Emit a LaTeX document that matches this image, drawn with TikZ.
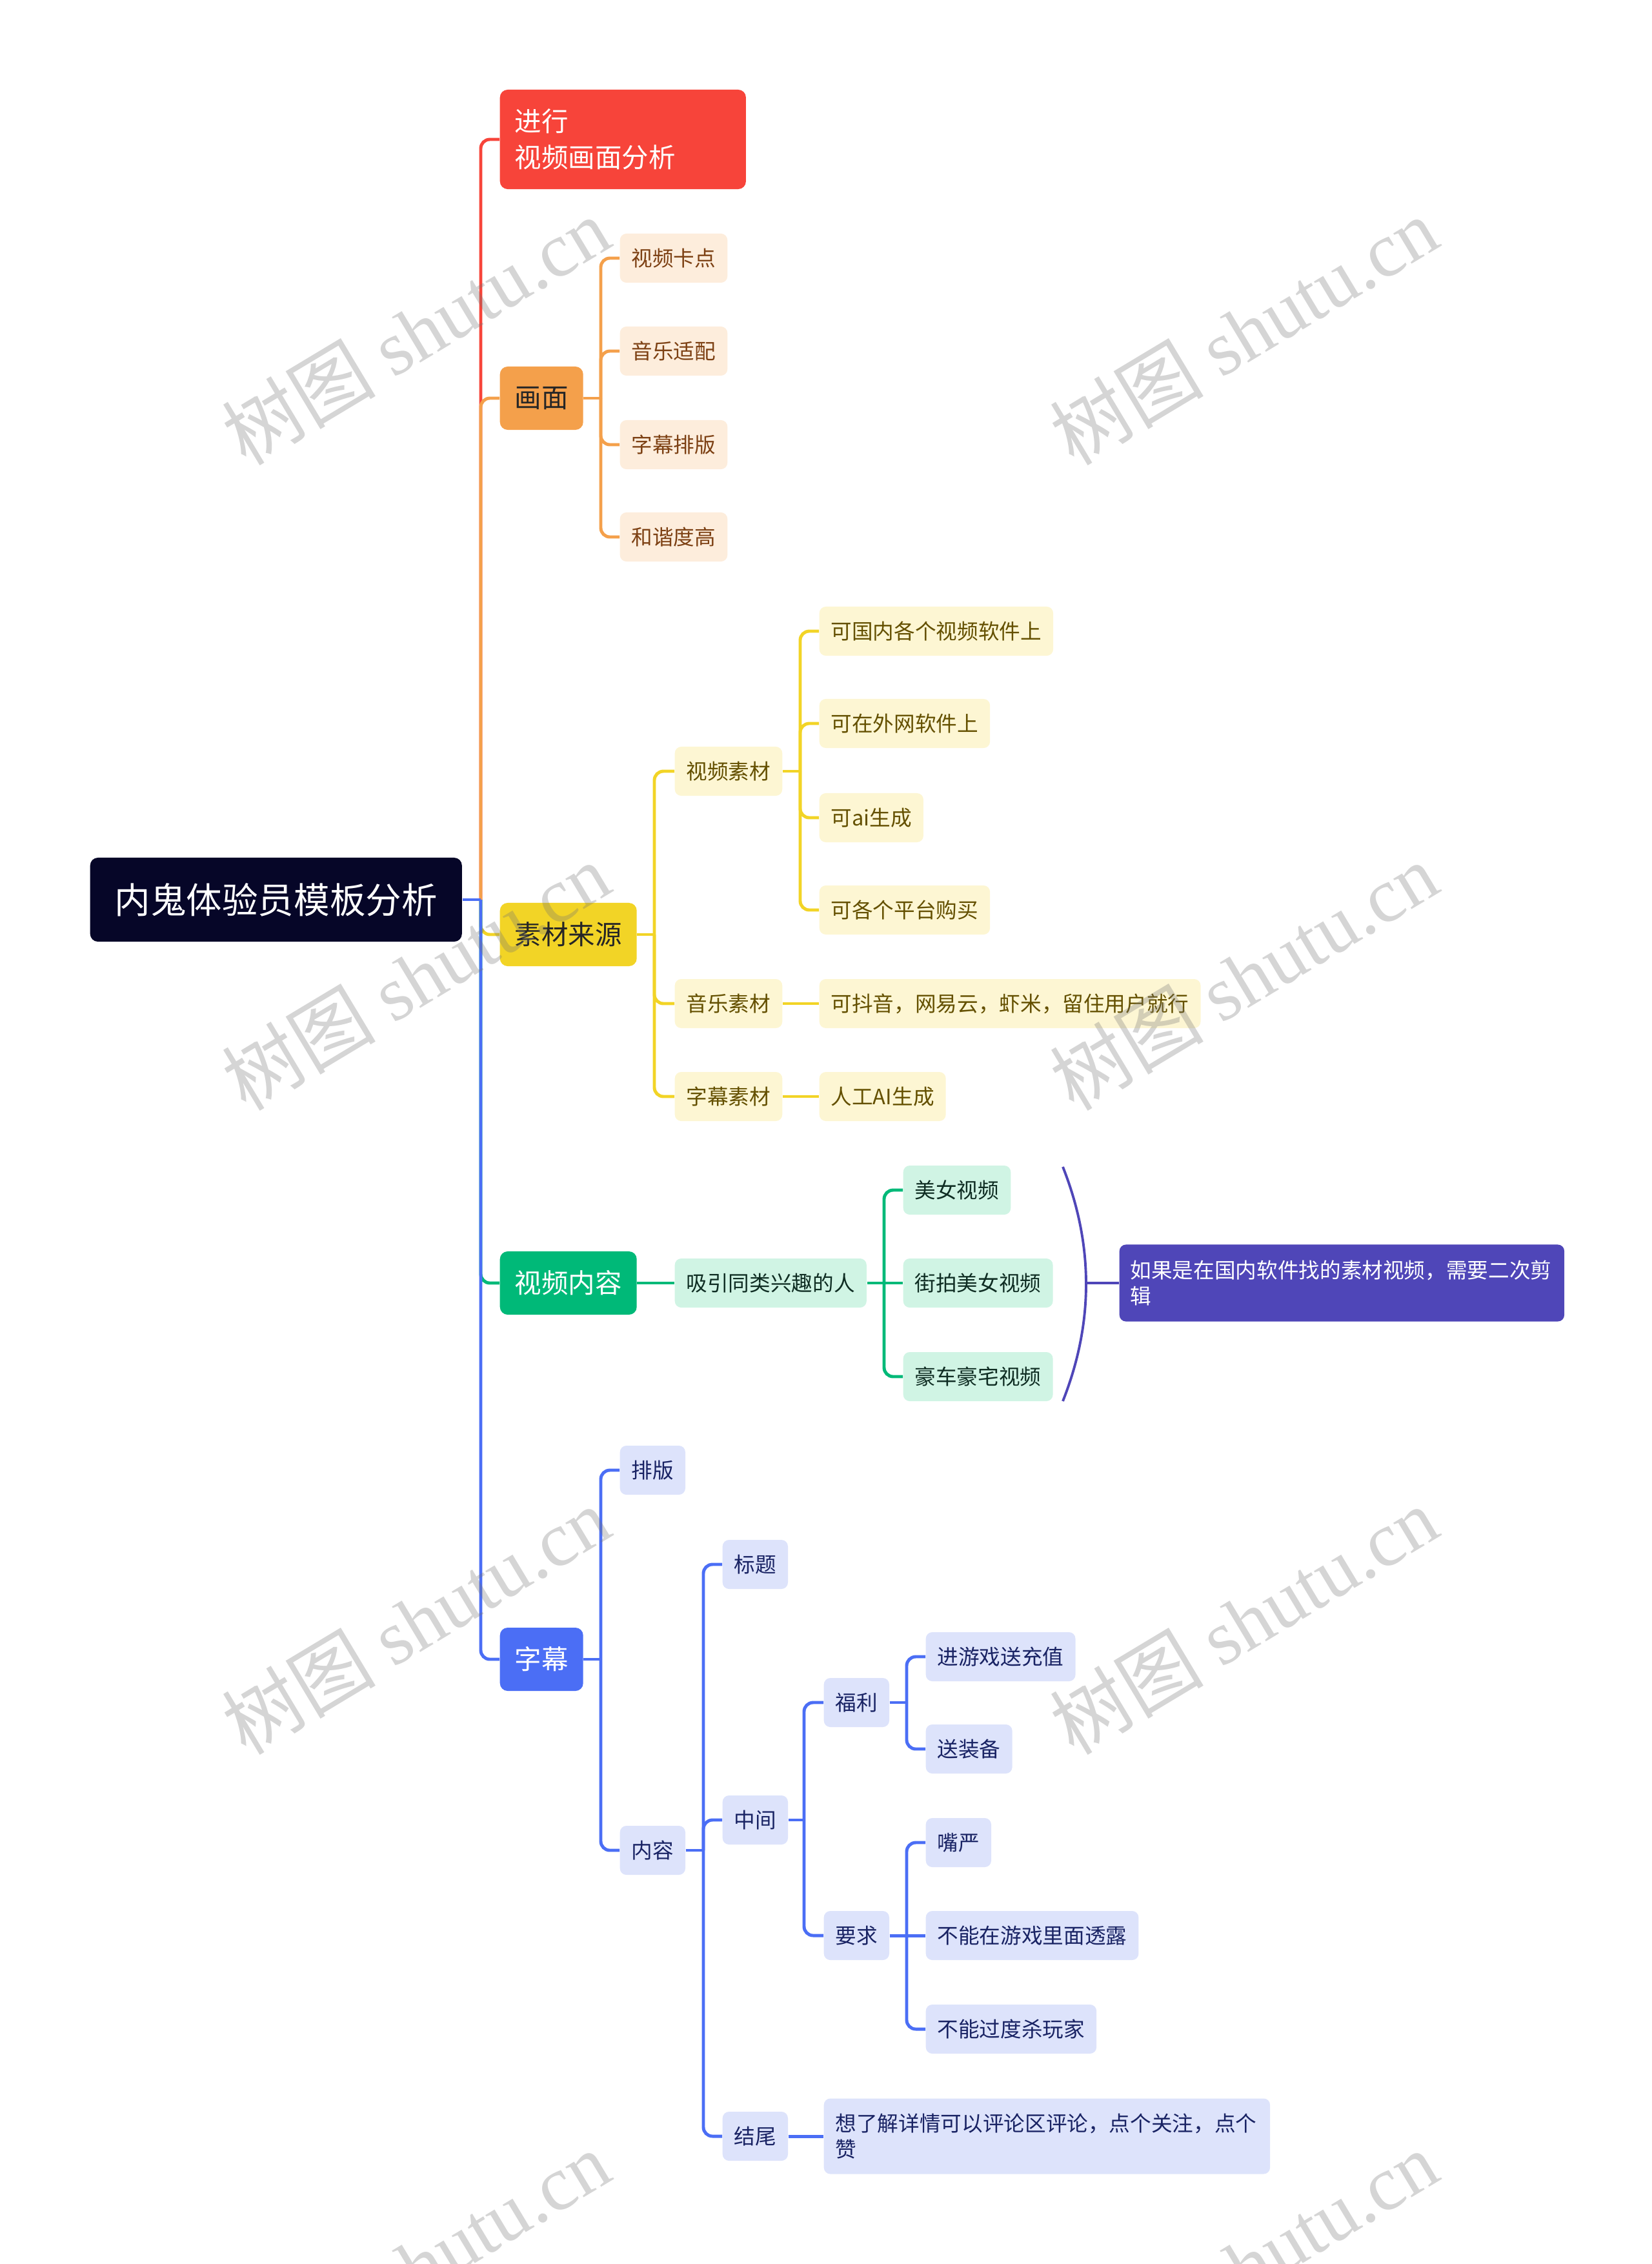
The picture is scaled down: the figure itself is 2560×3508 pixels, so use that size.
\documentclass[tikz,border=0pt]{standalone}
\usepackage{fontspec}
\setmainfont{Noto Sans CJK SC}
\newfontfamily\wmfont{Liberation Serif}
\usepackage{xcolor}
\usepackage{tikz}
\usetikzlibrary{positioning}

\definecolor{rootbg}{RGB}{6,6,40}
\definecolor{cred}{RGB}{247,68,58}
\definecolor{corange}{RGB}{244,160,75}
\definecolor{cyellow}{RGB}{242,212,38}
\definecolor{cgreen}{RGB}{0,185,120}
\definecolor{cblue}{RGB}{75,110,245}
\definecolor{cpurple}{RGB}{79,70,184}
\definecolor{lorange}{RGB}{253,237,220}
\definecolor{lyellow}{RGB}{253,246,211}
\definecolor{lgreen}{RGB}{208,244,228}
\definecolor{lblue}{RGB}{221,227,251}
\definecolor{torange}{RGB}{125,65,20}
\definecolor{tyellow}{RGB}{100,80,0}
\definecolor{tgreen}{RGB}{15,45,35}
\definecolor{tblue}{RGB}{25,35,100}

\begin{document}
\begin{tikzpicture}[
    x=0.01cm, y=-0.01cm,
    root/.style={fill=rootbg, text=white, rounded corners=0.12cm, anchor=west,
                 inner xsep=0.38cm, minimum height=1.3cm,
                 font=\fontsize{15.8}{19}\selectfont},
    big/.style={rounded corners=0.12cm, anchor=west, inner xsep=0.23cm,
                minimum height=0.98cm, font=\fontsize{11.8}{16}\selectfont},
    sub/.style={rounded corners=0.1cm, anchor=west, inner xsep=0.18cm,
                minimum height=0.76cm, font=\fontsize{9.28}{11.5}\selectfont},
    ln/.style={line width=1.4pt},
    rc/.style={line width=1.4pt, rounded corners=0.14cm},
    wm/.style={rotate=31, text=black!55, opacity=0.3,
               font=\fontsize{34}{34}\selectfont}]
  \useasboundingbox (0,0) rectangle (2560,3508);

  % root and first level
  \node[root] (root) at (139,1394) {内鬼体验员模板分析};
  \node[big, fill=cred, text=white, text width=3.35cm, align=left,
        minimum height=1.54cm] (fx) at (774,216) {进行\\视频画面分析};
  \node[big, fill=corange, text=black!85] (hm) at (774,617) {画面};
  \node[big, fill=cyellow, text=black!85] (sc) at (774,1448) {素材来源};
  \node[big, fill=cgreen, text=white] (sp) at (774,1988) {视频内容};
  \node[big, fill=cblue, text=white] (zm) at (774,2571) {字幕};

  % picture
  \node[sub, fill=lorange, text=torange] (kd) at (960,400) {视频卡点};
  \node[sub, fill=lorange, text=torange] (yp) at (960,544) {音乐适配};
  \node[sub, fill=lorange, text=torange] (pb) at (960,689) {字幕排版};
  \node[sub, fill=lorange, text=torange] (hx) at (960,832) {和谐度高};

  % material
  \node[sub, fill=lyellow, text=tyellow] (spsc) at (1045,1195) {视频素材};
  \node[sub, fill=lyellow, text=tyellow] (yysc) at (1045,1555) {音乐素材};
  \node[sub, fill=lyellow, text=tyellow] (zmsc) at (1045,1699) {字幕素材};
  \node[sub, fill=lyellow, text=tyellow] (gn) at (1269,978) {可国内各个视频软件上};
  \node[sub, fill=lyellow, text=tyellow] (ww) at (1269,1121) {可在外网软件上};
  \node[sub, fill=lyellow, text=tyellow] (ai) at (1269,1267) {可ai生成};
  \node[sub, fill=lyellow, text=tyellow] (pt) at (1269,1410) {可各个平台购买};
  \node[sub, fill=lyellow, text=tyellow] (dy) at (1269,1555) {可抖音，网易云，虾米，留住用户就行};
  \node[sub, fill=lyellow, text=tyellow] (rg) at (1269,1699) {人工AI生成};

  % content
  \node[sub, fill=lgreen, text=tgreen] (xy) at (1045,1988) {吸引同类兴趣的人};
  \node[sub, fill=lgreen, text=tgreen] (mn) at (1399,1844) {美女视频};
  \node[sub, fill=lgreen, text=tgreen] (jp) at (1399,1988) {街拍美女视频};
  \node[sub, fill=lgreen, text=tgreen] (hc) at (1399,2133) {豪车豪宅视频};
  \node[sub, fill=cpurple, text=white, text width=6.55cm, align=left,
        inner xsep=0.17cm, minimum height=1.19cm] (tip) at (1734,1988)
        {如果是在国内软件找的素材视频，需要二次剪\\辑};

  % subtitles
  \node[sub, fill=lblue, text=tblue] (px) at (960,2278) {排版};
  \node[sub, fill=lblue, text=tblue] (nr) at (960,2867) {内容};
  \node[sub, fill=lblue, text=tblue] (bt) at (1119,2424) {标题};
  \node[sub, fill=lblue, text=tblue] (zj) at (1119,2820) {中间};
  \node[sub, fill=lblue, text=tblue] (jw) at (1119,3310) {结尾};
  \node[sub, fill=lblue, text=tblue] (fl) at (1276,2638) {福利};
  \node[sub, fill=lblue, text=tblue] (yq) at (1276,2999) {要求};
  \node[sub, fill=lblue, text=tblue] (cz) at (1434,2567) {进游戏送充值};
  \node[sub, fill=lblue, text=tblue] (zb) at (1434,2710) {送装备};
  \node[sub, fill=lblue, text=tblue] (zy) at (1434,2855) {嘴严};
  \node[sub, fill=lblue, text=tblue] (tl) at (1434,2999) {不能在游戏里面透露};
  \node[sub, fill=lblue, text=tblue] (sw) at (1434,3144) {不能过度杀玩家};
  \node[sub, fill=lblue, text=tblue, text width=6.55cm, align=left,
        minimum height=1.17cm] (gz) at (1276,3310)
        {想了解详情可以评论区评论，点个关注，点个\\赞};

  % root connectors
  \draw[rc, cred] (745,1394) |- (fx.west);
  \draw[rc, corange] (745,1394) |- (hm.west);
  \draw[rc, cyellow] (745,1394) |- (sc.west);
  \draw[rc, cgreen] (745,1394) |- (sp.west);
  \draw[rc, cblue] (745,1394) |- (zm.west);
  \draw[ln, cblue] (root.east) -- (745,1394);

  % picture connectors
  \draw[ln, corange] (hm.east) -- (931,617);
  \draw[rc, corange] (931,617) |- (kd.west);
  \draw[rc, corange] (931,617) |- (yp.west);
  \draw[rc, corange] (931,617) |- (pb.west);
  \draw[rc, corange] (931,617) |- (hx.west);

  % material connectors
  \draw[ln, cyellow] (sc.east) -- (1014,1448);
  \draw[rc, cyellow] (1014,1448) |- (spsc.west);
  \draw[rc, cyellow] (1014,1448) |- (yysc.west);
  \draw[rc, cyellow] (1014,1448) |- (zmsc.west);
  \draw[ln, cyellow] (spsc.east) -- (1240,1195);
  \draw[rc, cyellow] (1240,1195) |- (gn.west);
  \draw[rc, cyellow] (1240,1195) |- (ww.west);
  \draw[rc, cyellow] (1240,1195) |- (ai.west);
  \draw[rc, cyellow] (1240,1195) |- (pt.west);
  \draw[ln, cyellow] (yysc.east) -- (dy.west);
  \draw[ln, cyellow] (zmsc.east) -- (rg.west);

  % content connectors
  \draw[ln, cgreen] (sp.east) -- (xy.west);
  \draw[ln, cgreen] (xy.east) -- (jp.west);
  \draw[rc, cgreen] (1370,1988) |- (mn.west);
  \draw[rc, cgreen] (1370,1988) |- (hc.west);
  \draw[cpurple, line width=1.1pt] (1647,1808) .. controls (1695,1929) and (1695,2050) .. (1647,2171);
  \coordinate (brc) at (1683,1988);
  \draw[ln, cpurple] (brc) -- (tip.west);

  % subtitle connectors
  \draw[ln, cblue] (zm.east) -- (931,2571);
  \draw[rc, cblue] (931,2571) |- (px.west);
  \draw[rc, cblue] (931,2571) |- (nr.west);
  \draw[ln, cblue] (nr.east) -- (1090,2867);
  \draw[rc, cblue] (1090,2867) |- (bt.west);
  \draw[rc, cblue] (1090,2867) |- (zj.west);
  \draw[rc, cblue] (1090,2867) |- (jw.west);
  \draw[ln, cblue] (zj.east) -- (1246,2820);
  \draw[rc, cblue] (1246,2820) |- (fl.west);
  \draw[rc, cblue] (1246,2820) |- (yq.west);
  \draw[ln, cblue] (fl.east) -- (1405,2638);
  \draw[rc, cblue] (1405,2638) |- (cz.west);
  \draw[rc, cblue] (1405,2638) |- (zb.west);
  \draw[ln, cblue] (yq.east) -- (tl.west);
  \draw[rc, cblue] (1405,2999) |- (zy.west);
  \draw[rc, cblue] (1405,2999) |- (sw.west);
  \draw[ln, cblue] (jw.east) -- (gz.west);

  % watermark
  \node[wm] (wm1) at (644,513) {树图 {\wmfont shutu.cn}};
  \node[wm] (wm2) at (1927,513) {树图 {\wmfont shutu.cn}};
  \node[wm] (wm3) at (644,1513) {树图 {\wmfont shutu.cn}};
  \node[wm] (wm4) at (1927,1513) {树图 {\wmfont shutu.cn}};
  \node[wm] (wm5) at (644,2511) {树图 {\wmfont shutu.cn}};
  \node[wm] (wm6) at (1927,2511) {树图 {\wmfont shutu.cn}};
  \node[wm] (wm7) at (644,3509) {树图 {\wmfont shutu.cn}};
  \node[wm] (wm8) at (1927,3509) {树图 {\wmfont shutu.cn}};
\end{tikzpicture}
\end{document}
